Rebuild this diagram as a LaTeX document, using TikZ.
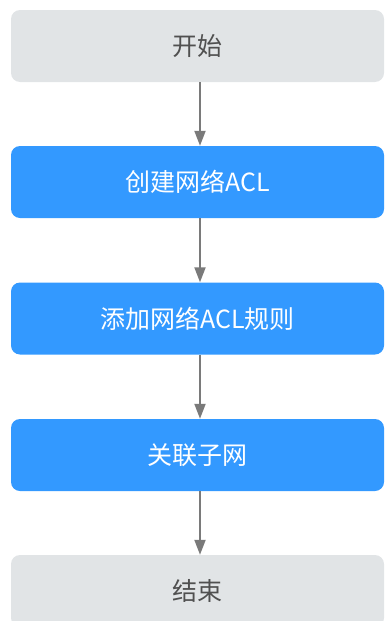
\documentclass[tikz,border=0pt]{standalone}
\usepackage{fontspec}
\setmainfont{Noto Sans CJK SC}
\usetikzlibrary{arrows.meta}
\definecolor{boxgray}{HTML}{E1E4E6}
\definecolor{boxblue}{HTML}{3399FF}
\definecolor{txtgray}{HTML}{505050}
\definecolor{arrgray}{HTML}{7A7A7A}
\begin{document}
\begin{tikzpicture}[x=1pt,y=-1pt,
  stepbox/.style={rectangle, rounded corners=9pt, minimum width=373pt, minimum height=72pt, inner sep=0pt, font=\fontsize{25}{29}\selectfont},
  graybox/.style={stepbox, fill=boxgray, text=txtgray},
  bluebox/.style={stepbox, fill=boxblue, text=white},
  flow/.style={draw=arrgray, line width=2pt, -{Triangle[length=15pt,width=11pt]}}]
\useasboundingbox (0,0) rectangle (385,621);
\clip (0,0) rectangle (385,621);
\node[graybox] (s) at (197.5,46) {开始};
\node[bluebox] (a) at (197.5,182) {创建网络ACL};
\node[bluebox] (b) at (197.5,318.5) {添加网络ACL规则};
\node[bluebox] (c) at (197.5,455) {关联子网};
\node[graybox] (e) at (197.5,591) {结束};
\draw[flow] ([xshift=2.5pt]s.south) -- ([xshift=2.5pt]a.north);
\draw[flow] ([xshift=2.5pt]a.south) -- ([xshift=2.5pt]b.north);
\draw[flow] ([xshift=2.5pt]b.south) -- ([xshift=2.5pt]c.north);
\draw[flow] ([xshift=2.5pt]c.south) -- ([xshift=2.5pt]e.north);
\end{tikzpicture}
\end{document}
